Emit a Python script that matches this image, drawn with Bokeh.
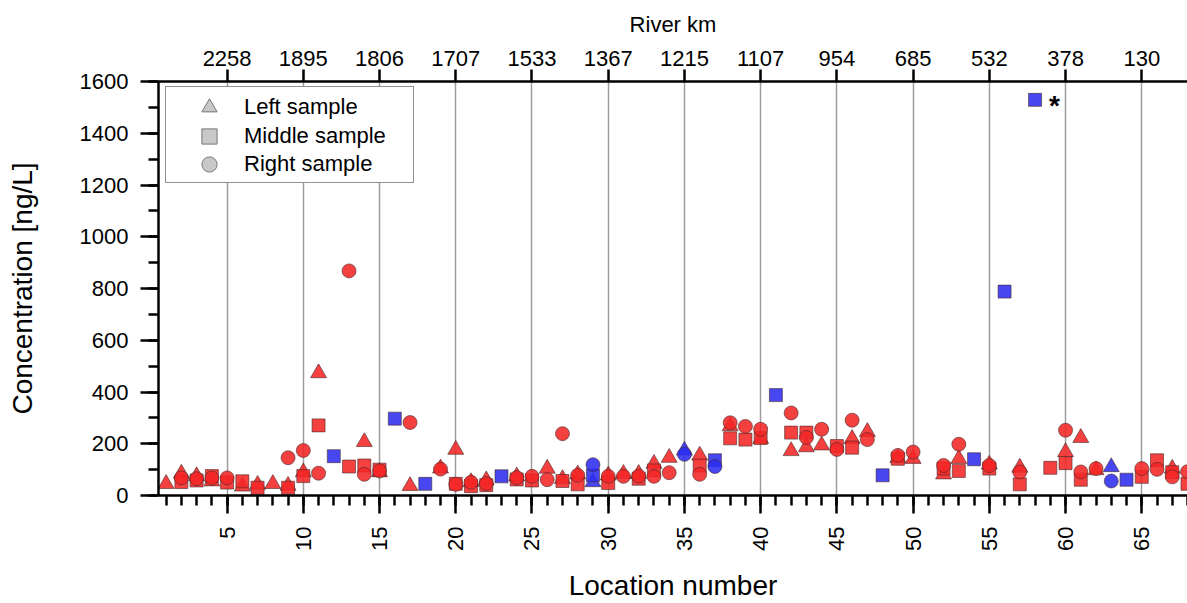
import math
from bokeh.plotting import figure
from bokeh.models import (ColumnDataSource, LinearAxis, FixedTicker, SingleIntervalTicker,
                          Range1d, Legend, LegendItem)
from bokeh.core.properties import value
from bokeh.embed import file_html
from bokeh.resources import INLINE

# ---------------- data ----------------
locations = list(range(1, 69))

left_sample = [45, 85, 75, 55, None, 35, 42, 45, 38, 90,
               473, None, None, 207, 90, None, 37, None, 105, 177,
               52, 59, None, 74, None, 104, 64, 82, 52, 78,
               84, 84, 123, 146, 174, 155, None, 268, None, 219,
               None, 172, 187, 194, None, 219, 246, None, 145, 142,
               None, 82, 142, None, 120, None, 108, None, None, 168,
               223, 98, 110, None, None, None, 104, None]

middle_sample = [None, 52, 58, 75, 50, 55, 30, None, 30, 75,
                 271, 152, 112, 116, 100, 297, None, 45, None, 45,
                 36, 40, 74, 62, 58, None, 56, 43, 78, 48,
                 None, 65, 97, None, None, 116, 136, 221, 216, 222,
                 388, 243, 243, None, 191, 185, None, 78, 142, None,
                 None, 104, 95, 140, 104, 788, 43, 1529, 107, 125,
                 61, None, None, 61, 72, 136, 90, 45]

right_sample = [None, 68, 65, 68, 68, None, None, None, 146, 174,
                86, None, 868, 82, 95, None, 282, None, 102, 43,
                51, 46, None, 69, 74, 61, 239, 78, 119, 74,
                74, 75, 74, 88, 159, 82, 112, 281, 267, 256,
                None, 319, 224, 256, 178, 291, 216, None, 155, 168,
                None, 116, 198, None, 116, None, 91, None, None, 252,
                91, 104, 56, None, 104, 101, 72, 92]

# locations whose samples are plotted in blue
tributary_locations = [12, 16, 18, 23, 29, 35, 37, 41, 48, 54, 56, 58, 63, 64]

river_km_locations = [5, 10, 15, 20, 25, 30, 35, 40, 45, 50, 55, 60, 65]
river_km_labels = ["2258", "1895", "1806", "1707", "1533", "1367", "1215",
                   "1107", "954", "685", "532", "378", "130"]

legend_labels = ["Left sample", "Middle sample", "Right sample"]

outlier_location = 58  # value marked with an asterisk

# ---------------- style ----------------
FONT = "Liberation Sans"
RED = "#f42626"
BLUE = "#2e2ef0"

p = figure(width=1187, height=603,
           x_range=Range1d(0.5, 68.0), y_range=Range1d(0, 1600),
           output_backend="svg", toolbar_location=None,
           min_border_left=158, min_border_right=0,
           min_border_top=81, min_border_bottom=108,
           background_fill_color="white", border_fill_color="white")
p.outline_line_color = None

# bottom axis
xa = p.xaxis[0]
xa.ticker = SingleIntervalTicker(interval=5, num_minor_ticks=5)
xa.major_label_orientation = math.pi / 2
xa.axis_label = "Location number"
# y axis
ya = p.yaxis[0]
ya.ticker = SingleIntervalTicker(interval=200, num_minor_ticks=2)
ya.axis_label = "Concentration [ng/L]"

for ax in (xa, ya):
    ax.axis_line_width = 2.5
    ax.axis_line_color = "black"
    ax.major_tick_line_width = 2.5
    ax.minor_tick_line_width = 2.5
    ax.major_tick_line_color = "black"
    ax.minor_tick_line_color = "black"
    ax.major_tick_in = 0
    ax.minor_tick_in = 0
    ax.major_tick_out = 18
    ax.minor_tick_out = 10
    ax.major_label_text_font = FONT
    ax.major_label_text_font_size = "22px"
    ax.major_label_text_color = "black"
    ax.axis_label_text_font = FONT
    ax.axis_label_text_font_size = "28px"
    ax.axis_label_text_font_style = "normal"
    ax.axis_label_text_color = "black"
xa.major_label_standoff = 13
xa.axis_label_standoff = 16
ya.major_label_standoff = 12
ya.axis_label_standoff = 39

# top axis (river km)
top = LinearAxis(ticker=FixedTicker(ticks=river_km_locations),
                 major_label_overrides={loc: lab for loc, lab in zip(river_km_locations, river_km_labels)},
                 axis_label="River km")
top.axis_line_width = 2.5
top.axis_line_color = "black"
top.major_tick_line_width = 2.5
top.major_tick_line_color = "black"
top.major_tick_in = 0
top.major_tick_out = 12
top.minor_tick_line_color = None
top.major_label_text_font = FONT
top.major_label_text_font_size = "22px"
top.major_label_text_color = "black"
top.major_label_standoff = 4
top.axis_label_text_font = FONT
top.axis_label_text_font_size = "22px"
top.axis_label_text_font_style = "normal"
top.axis_label_text_color = "black"
top.axis_label_standoff = 11
p.add_layout(top, "above")

# grid
p.ygrid.grid_line_color = None
p.xgrid.ticker = FixedTicker(ticks=river_km_locations)
p.xgrid.grid_line_color = "#9c9c9c"
p.xgrid.grid_line_width = 1.5


def sample_source(vals):
    xs, ys, cs = [], [], []
    for loc, v in zip(locations, vals):
        if v is None:
            continue
        xs.append(loc)
        ys.append(v)
        cs.append(BLUE if loc in tributary_locations else RED)
    return ColumnDataSource(dict(x=xs, y=ys, color=cs))


common = dict(fill_color="color", fill_alpha=0.88, line_color="#4a2a2a",
              line_alpha=0.6, line_width=1)
p.scatter("x", "y", source=sample_source(left_sample), marker="triangle", size=16, **common)
p.scatter("x", "y", source=sample_source(middle_sample), marker="square", size=13, **common)
p.scatter("x", "y", source=sample_source(right_sample), marker="circle", size=14, **common)

# asterisk at the outlier
oi = locations.index(outlier_location)
p.text(x=[outlier_location], y=[middle_sample[oi]], text=["*"], x_offset=14, y_offset=6,
       text_font=value(FONT), text_font_style="bold", text_font_size="28px",
       text_baseline="middle", text_align="left", text_color="black")

# ---------------- legend ----------------
nan = float("nan")
leg_style = dict(fill_color="#c8c8c8", line_color="#777777", line_width=1)
proxies = [p.scatter(x=[nan], y=[nan], marker=m, **leg_style)
           for m in ("triangle", "square", "circle")]
blank = p.scatter(x=[nan], y=[nan], marker="circle", fill_alpha=0, line_alpha=0)

# outer frame of the legend (one blank entry that only gives the box its size)
frame_legend = Legend(items=[LegendItem(label=" ", renderers=[blank])],
                      location=(7, 312), orientation="vertical", margin=0,
                      padding=10, spacing=0, glyph_height=75, glyph_width=68,
                      label_standoff=0, label_width=159, label_height=75,
                      label_text_font=FONT, label_text_font_size="22px",
                      border_line_color="#222222", border_line_width=1.5,
                      background_fill_color="white", background_fill_alpha=1.0)
p.add_layout(frame_legend)

# one legend per entry so that the markers can be drawn at full size
for lab, r, yloc in zip(legend_labels, proxies, (369, 340, 312)):
    lg = Legend(items=[LegendItem(label=lab, renderers=[r])],
                location=(16, yloc), orientation="vertical", margin=0,
                padding=0, spacing=0, glyph_height=38, glyph_width=70,
                label_standoff=0, label_height=38,
                label_text_font=FONT, label_text_font_size="22px",
                label_text_color="black",
                border_line_color=None, background_fill_alpha=0.0)
    p.add_layout(lg)

open("out.html", "w").write(file_html(p, INLINE))
